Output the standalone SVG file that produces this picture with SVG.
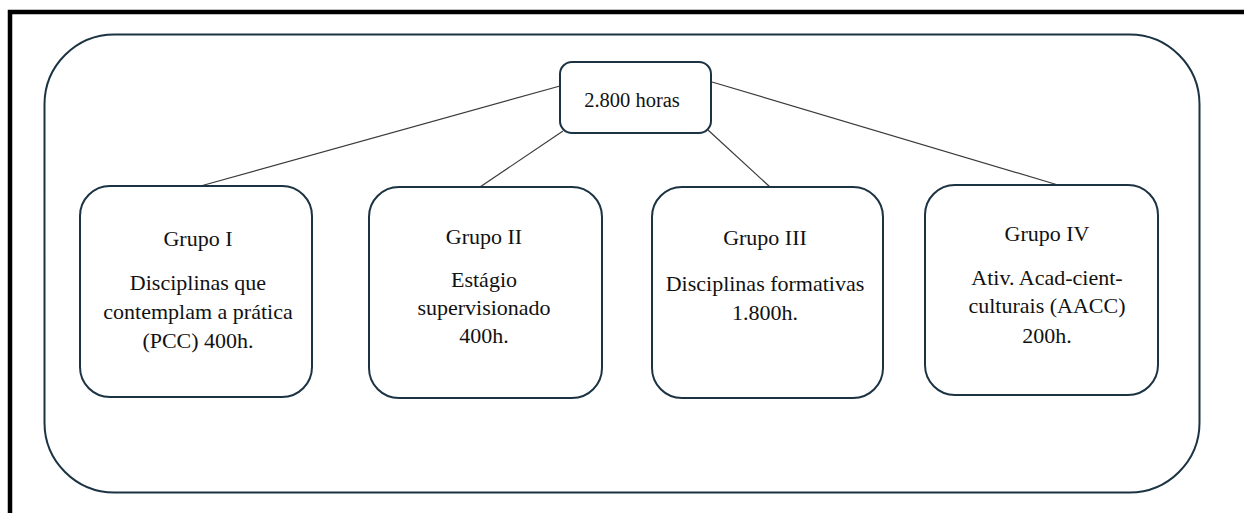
<svg xmlns="http://www.w3.org/2000/svg" width="1244" height="513" viewBox="0 0 1244 513">
<style>
.box{fill:#fff;stroke:#1b3342;stroke-width:2}
.frame{fill:none;stroke:#1b3342;stroke-width:2}
.conn{stroke:#3a3a3a;stroke-width:1.2;fill:none}
.lbl{font-family:'Liberation Serif','Times New Roman',Times,serif;fill:#111;text-anchor:middle}
.t{font-size:22px}
.h{font-size:20.5px}
</style>
<rect x="0" y="0" width="1244" height="513" fill="#fff"/>
<path d="M10 513 V12 H1244" fill="none" stroke="#000" stroke-width="4.5"/>
<rect id="container" class="frame" x="44.5" y="34.5" width="1155" height="458" rx="70" ry="70"/>
<g id="connectors">
<line class="conn" x1="560" y1="86" x2="197" y2="187"/>
<line class="conn" x1="563" y1="131" x2="480" y2="187"/>
<line class="conn" x1="708" y1="130" x2="770" y2="187"/>
<line class="conn" x1="712" y1="82" x2="1058" y2="185"/>
</g>
<g id="root" class="lbl">
<rect class="box" x="560" y="62" width="151" height="71" rx="12" ry="12"/>
<text class="h" x="632" y="107">2.800 horas</text>
</g>
<g id="g1" class="lbl">
<rect class="box" x="80" y="186" width="232" height="211" rx="30" ry="30"/>
<text class="t" x="198" y="246">Grupo I</text>
<text class="t" x="198" y="290">Disciplinas que</text>
<text class="t" x="198" y="319">contemplam a prática</text>
<text class="t" x="198" y="348">(PCC) 400h.</text>
</g>
<g id="g2" class="lbl">
<rect class="box" x="369" y="187" width="233" height="211" rx="30" ry="30"/>
<text class="t" x="484" y="244">Grupo II</text>
<text class="t" x="484" y="287">Estágio</text>
<text class="t" x="484" y="315">supervisionado</text>
<text class="t" x="484" y="343">400h.</text>
</g>
<g id="g3" class="lbl">
<rect class="box" x="652" y="187" width="231" height="211" rx="30" ry="30"/>
<text class="t" x="765" y="245">Grupo III</text>
<text class="t" x="765" y="291">Disciplinas formativas</text>
<text class="t" x="765" y="320">1.800h.</text>
</g>
<g id="g4" class="lbl">
<rect class="box" x="925" y="185" width="233" height="210" rx="30" ry="30"/>
<text class="t" x="1047" y="241">Grupo IV</text>
<text class="t" x="1047" y="285">Ativ. Acad-cient-</text>
<text class="t" x="1047" y="313">culturais (AACC)</text>
<text class="t" x="1047" y="343">200h.</text>
</g>
</svg>
